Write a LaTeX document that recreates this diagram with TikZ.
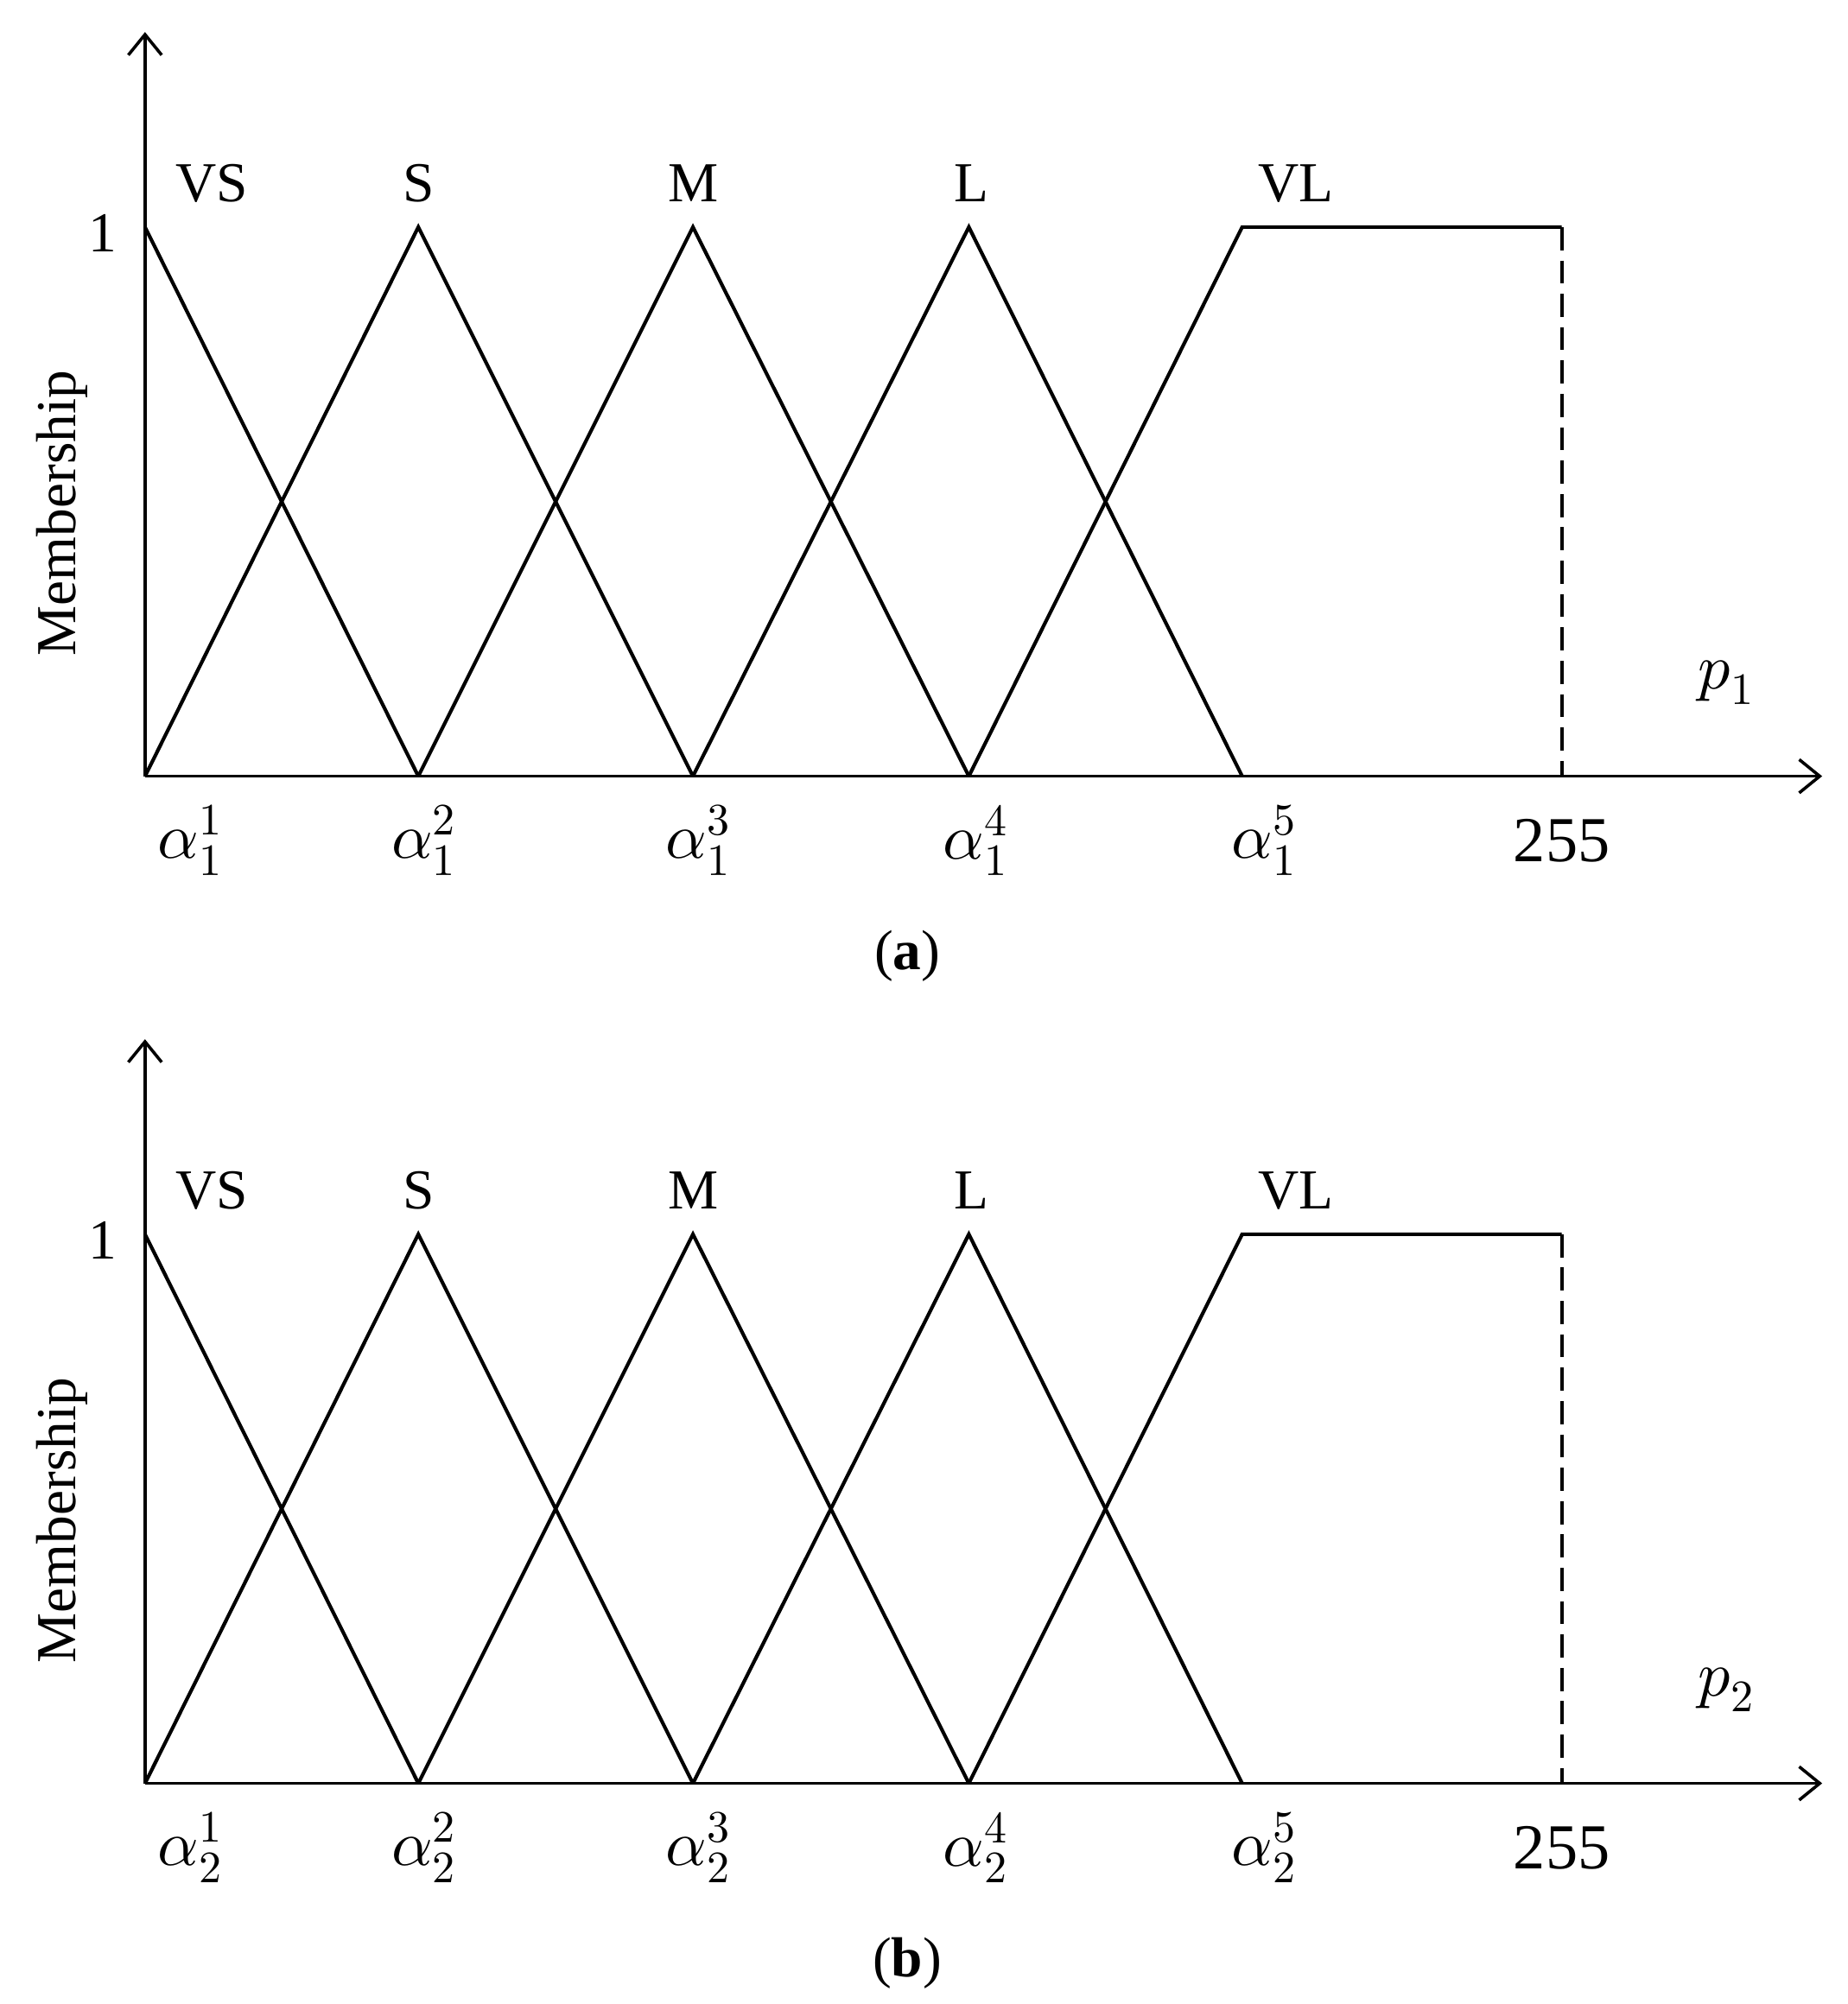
\documentclass[tikz,border=0pt]{standalone}
\usepackage{unicode-math}
\setmainfont{Liberation Serif}
\setmathfont{Latin Modern Math}
\usetikzlibrary{arrows.meta}
\begin{document}
\begin{tikzpicture}[x=1pt,y=-1pt,
  ax/.style={line width=2.4pt,-{Straight Barb[length=16pt,width=26pt,line width=2.4pt]}},
  mf/.style={line width=2.8pt,line join=miter},
  lbl/.style={font=\fontsize{44}{52}\selectfont,inner sep=0pt},
  tick/.style={font=\fontsize{50}{58}\selectfont,inner sep=0pt}]
\useasboundingbox (0,0) rectangle (1440,1562);
\foreach \dy/\s/\cap in {0/1/a,785/2/b}{
  \begin{scope}[yshift=-\dy pt]
  \coordinate (o\s) at (113,605);
  \coordinate (ytop\s) at (113,25);
  \coordinate (xend\s) at (1420,605);
  \draw[ax] (o\s) -- (ytop\s);
  \draw[ax] (o\s) -- (xend\s);
  \draw[mf] (113,177) -- (326,605);
  \draw[mf] (113,605) -- (326,177) -- (540,605);
  \draw[mf] (326,605) -- (540,177) -- (755,605);
  \draw[mf] (540,605) -- (755,177) -- (968,605);
  \draw[mf] (755,605) -- (968,177) -- (1217,177);
  \draw[line width=2.6pt,dash pattern=on 18pt off 8pt] (1217,177) -- (1217,605);
  \node[lbl] (vs\s) at (165,143) {VS};
  \node[lbl] (s\s) at (326,143) {S};
  \node[lbl] (m\s) at (540,143) {M};
  \node[lbl] (l\s) at (757,143) {L};
  \node[lbl] (vl\s) at (1010,143) {VL};
  \node[lbl] (one\s) at (80,182) {1};
  \node[lbl,rotate=90] (mem\s) at (48,400) {Membership};
  \node[tick] (p\s) at (1345,532) {$p_{\s}$};
  \node[tick] (t1\s) at (148,655) {$\alpha_{\s}^{1}$};
  \node[tick] (t2\s) at (330,655) {$\alpha_{\s}^{2}$};
  \node[tick] (t3\s) at (544,655) {$\alpha_{\s}^{3}$};
  \node[tick] (t4\s) at (760,655) {$\alpha_{\s}^{4}$};
  \node[tick] (t5\s) at (985,655) {$\alpha_{\s}^{5}$};
  \node[tick] (t6\s) at (1217,655) {255};
  \node[lbl] (cap\s) at (707,745) {(\textbf{\cap})};
  \end{scope}
}
\end{tikzpicture}
\end{document}
